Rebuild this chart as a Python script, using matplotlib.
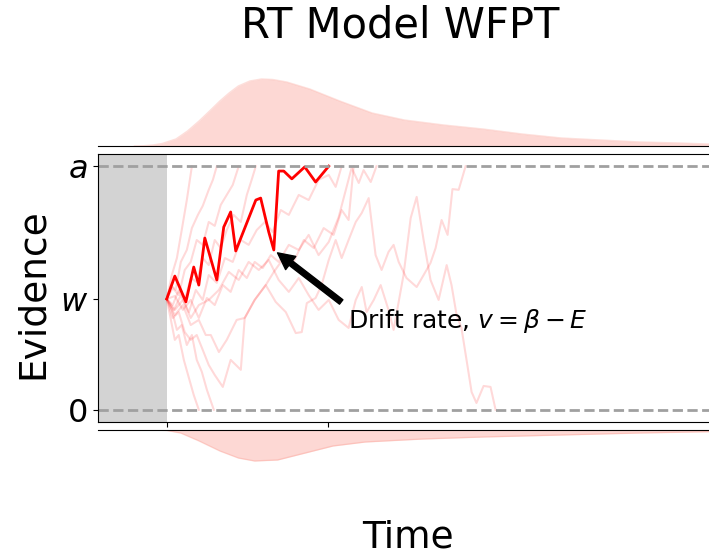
import matplotlib
matplotlib.use("Agg")
import matplotlib.pyplot as plt

# boundary / start point / non-decision time
a = 1.0
w = 0.455
t0 = 0.3

# highlighted trajectory (time, evidence)
main_t = [0.300, 0.335, 0.383, 0.417, 0.439, 0.465, 0.517, 0.547, 0.577, 0.599,
          0.686, 0.707, 0.742, 0.764, 0.785, 0.807, 0.842, 0.898, 0.945, 1.002]
main_e = [0.455, 0.549, 0.443, 0.586, 0.512, 0.705, 0.533, 0.750, 0.812, 0.652,
          0.861, 0.869, 0.730, 0.656, 0.980, 0.980, 0.948, 0.997, 0.935, 1.000]

# faint trajectories
p1_t = [0.300, 0.322, 0.344, 0.365, 0.387, 0.409]
p1_e = [0.455, 0.553, 0.623, 0.738, 0.861, 1.0]
p2_t = [0.300, 0.318, 0.339, 0.361, 0.387, 0.409, 0.435, 0.456, 0.482, 0.500, 0.517]
p2_e = [0.455, 0.512, 0.492, 0.607, 0.656, 0.746, 0.800, 0.837, 0.903, 0.944, 1.0]
p3_t = [0.300, 0.326, 0.352, 0.378, 0.404, 0.430, 0.456, 0.482, 0.508, 0.534, 0.560, 0.586, 0.612]
p3_e = [0.455, 0.500, 0.471, 0.574, 0.607, 0.697, 0.677, 0.771, 0.755, 0.841, 0.882, 0.923, 1.0]
p4_t = [0.300, 0.326, 0.352, 0.378, 0.404, 0.430, 0.456, 0.482, 0.508, 0.534, 0.560, 0.590,
        0.621, 0.647, 0.668, 0.686]
p4_e = [0.455, 0.430, 0.492, 0.451, 0.541, 0.525, 0.623, 0.594, 0.697, 0.664, 0.738, 0.800,
        0.771, 0.882, 0.944, 1.0]
p5_t = [0.300, 0.331, 0.361, 0.396, 0.426, 0.456, 0.482, 0.517, 0.552, 0.586, 0.621, 0.655,
        0.690, 0.725, 0.759, 0.794, 0.829, 0.872, 0.915, 0.958, 1.002, 1.032, 1.058]
p5_e = [0.455, 0.410, 0.471, 0.401, 0.492, 0.451, 0.553, 0.521, 0.623, 0.607, 0.697, 0.677,
        0.738, 0.771, 0.730, 0.820, 0.800, 0.882, 0.861, 0.944, 0.964, 0.915, 1.0]
p6_t = [0.300, 0.335, 0.370, 0.404, 0.439, 0.474, 0.508, 0.543, 0.577, 0.612, 0.647, 0.681,
        0.716, 0.751, 0.785, 0.829, 0.872, 0.915, 0.958, 1.002, 1.045, 1.101, 1.132, 1.153,
        1.184, 1.209]
p6_e = [0.455, 0.467, 0.410, 0.451, 0.377, 0.459, 0.430, 0.512, 0.484, 0.574, 0.541, 0.607,
        0.582, 0.635, 0.607, 0.677, 0.656, 0.718, 0.635, 0.689, 0.791, 0.993, 0.931, 0.984,
        0.935, 1.0]
p7_t = [0.300, 0.335, 0.370, 0.404, 0.439, 0.469, 0.491, 0.526, 0.560, 0.603, 0.638, 0.681,
        0.729, 0.772, 0.816, 0.859, 0.885, 0.907, 0.945, 0.971, 1.002, 1.032, 1.058, 1.088,
        1.119, 1.145, 1.175, 1.205, 1.231, 1.261, 1.283, 1.305, 1.339, 1.383, 1.413, 1.443,
        1.465, 1.491, 1.517, 1.538, 1.565, 1.595]
p7_e = [0.455, 0.389, 0.430, 0.348, 0.369, 0.307, 0.307, 0.237, 0.287, 0.369, 0.377, 0.451,
        0.512, 0.443, 0.401, 0.315, 0.319, 0.438, 0.459, 0.512, 0.615, 0.697, 0.623, 0.697,
        0.771, 0.808, 0.869, 0.635, 0.574, 0.648, 0.677, 0.607, 0.541, 0.504, 0.553, 0.603,
        0.664, 0.779, 0.718, 0.906, 0.903, 1.0]
p8_t = [0.300, 0.335, 0.370, 0.404, 0.439, 0.482, 0.526, 0.569, 0.612, 0.655, 0.699, 0.742,
        0.785, 0.829, 0.872, 0.915, 0.958, 1.002, 1.045, 1.088, 1.119, 1.145, 1.166, 1.197,
        1.227, 1.261, 1.283, 1.326, 1.357, 1.383, 1.413, 1.443, 1.478, 1.513, 1.534, 1.556,
        1.577, 1.599, 1.621, 1.642, 1.673, 1.703, 1.725]
p8_e = [0.455, 0.410, 0.451, 0.377, 0.430, 0.451, 0.492, 0.566, 0.533, 0.607, 0.574, 0.615,
        0.533, 0.484, 0.541, 0.471, 0.410, 0.451, 0.369, 0.336, 0.451, 0.504, 0.401, 0.451,
        0.512, 0.410, 0.328, 0.553, 0.787, 0.874, 0.697, 0.533, 0.451, 0.594, 0.512, 0.389,
        0.336, 0.205, 0.073, 0.028, 0.098, 0.094, 0.0]
p9_t = [0.300, 0.318, 0.335, 0.352, 0.374, 0.396, 0.417, 0.439]
p9_e = [0.455, 0.369, 0.287, 0.307, 0.205, 0.131, 0.061, 0.0]
p10_t = [0.300, 0.322, 0.344, 0.365, 0.387, 0.409, 0.430, 0.452, 0.474, 0.504]
p10_e = [0.455, 0.410, 0.328, 0.348, 0.266, 0.307, 0.205, 0.156, 0.082, 0.0]
p11_t = [0.300, 0.326, 0.352, 0.378, 0.404, 0.430, 0.456, 0.482, 0.508, 0.543, 0.577, 0.621,
         0.638, 0.681, 0.729, 0.764, 0.807, 0.850, 0.894, 0.937, 0.980, 1.023, 1.058, 1.088,
         1.110]
p11_e = [0.455, 0.377, 0.401, 0.319, 0.287, 0.307, 0.246, 0.184, 0.143, 0.094, 0.205, 0.164,
         0.377, 0.451, 0.512, 0.566, 0.623, 0.607, 0.697, 0.664, 0.746, 0.718, 0.820, 0.779,
         1.0]

faint_t = [p1_t, p2_t, p3_t, p4_t, p5_t, p6_t, p7_t, p8_t, p9_t, p10_t, p11_t]
faint_e = [p1_e, p2_e, p3_e, p4_e, p5_e, p6_e, p7_e, p8_e, p9_e, p10_e, p11_e]

# first-passage densities (upper boundary on top, lower boundary on bottom)
up_t = [0.16, 0.20, 0.24, 0.28, 0.34, 0.39, 0.44, 0.49, 0.53, 0.57, 0.61, 0.66, 0.71, 0.76,
        0.82, 0.92, 1.05, 1.19, 1.33, 1.50, 1.67, 1.84, 2.01, 2.18, 2.35, 2.52, 2.70]
up_d = [0.0, 0.005, 0.02, 0.05, 0.14, 0.30, 0.50, 0.72, 0.90, 1.06, 1.20, 1.30, 1.34, 1.33,
        1.28, 1.14, 0.90, 0.66, 0.52, 0.42, 0.34, 0.24, 0.16, 0.12, 0.08, 0.06, 0.03]
lo_t = [0.25, 0.30, 0.36, 0.44, 0.53, 0.61, 0.68, 0.78, 0.90, 1.02, 1.16, 1.41, 1.67, 2.01,
        2.35, 2.70]
lo_d = [0.0, 0.01, 0.06, 0.22, 0.42, 0.56, 0.62, 0.60, 0.46, 0.32, 0.24, 0.18, 0.14, 0.10,
        0.06, 0.03]

fig = plt.figure(figsize=(7.09, 5.56), dpi=100)

def fy(px):
    return 1 - px / 556.0

L = 97.5 / 709
W = 1.005 - L
ax_top = fig.add_axes([L, fy(146), W, 80 / 556])
ax = fig.add_axes([L, fy(422), W, (422 - 154) / 556])
ax_bot = fig.add_axes([L, fy(510), W, 80 / 556])

xmax = 2.665
dens_col = "salmon"

# top density
ax_top.fill_between(up_t, up_d, color=dens_col, alpha=0.3, lw=0)
ax_top.plot(up_t, up_d, color=dens_col, alpha=0.25, lw=1)
ax_top.set_xlim(0, xmax)
ax_top.set_ylim(0, 1.6)
for s in ["top", "left", "right"]:
    ax_top.spines[s].set_visible(False)
ax_top.set_xticks([])
ax_top.set_yticks([])
ax_top.patch.set_alpha(0)

# bottom density
ax_bot.fill_between(lo_t, lo_d, color=dens_col, alpha=0.3, lw=0)
ax_bot.plot(lo_t, lo_d, color=dens_col, alpha=0.25, lw=1)
ax_bot.set_xlim(0, xmax)
ax_bot.set_ylim(1.6, 0)
for s in ["bottom", "left", "right"]:
    ax_bot.spines[s].set_visible(False)
ax_bot.set_xticks([])
ax_bot.set_yticks([])
ax_bot.patch.set_alpha(0)

# main panel
ax.axvspan(0, t0, color="lightgrey", lw=0)
for tt, ee in zip(faint_t, faint_e):
    ax.plot(tt, ee, color="red", alpha=0.15, lw=1.5)
ax.plot(main_t, main_e, color="red", lw=2)
ax.axhline(0, color="#a0a0a0", ls="--", lw=2)
ax.axhline(a, color="#a0a0a0", ls="--", lw=2)
ax.set_xlim(0, xmax)
ax.set_ylim(-0.05, 1.05)
ax.set_yticks([0, w, a])
ax.set_yticklabels(["0", "$w$", "$a$"], fontsize=23)
ax.set_xticks([t0, 1.0])
ax.set_xticklabels([])

ax.annotate("Drift rate, $v = \\beta - E$", xy=(0.764, 0.656), xytext=(1.084, 0.336),
            fontsize=18, arrowprops=dict(facecolor="black", shrink=0.05))

fig.text(400 / 709, fy(25), "RT Model WFPT", fontsize=30, ha="center", va="center")
fig.text(408 / 709, fy(537), "Time", fontsize=27, ha="center", va="center")
fig.text(33 / 709, fy(294), "Evidence", fontsize=27, ha="center", va="center", rotation=90)

fig.savefig("out.png", dpi=100)
